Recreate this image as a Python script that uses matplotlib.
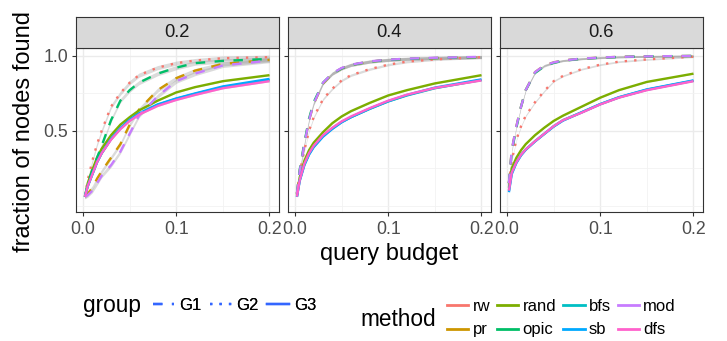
"""Fraction of nodes found vs query budget, faceted like ggplot facet_wrap"""
import matplotlib

matplotlib.use("Agg")
import matplotlib.pyplot as plt
from matplotlib.lines import Line2D
import numpy as np

plt.rcParams["font.family"] = ["Liberation Sans", "DejaVu Sans"]

# x 轴取样点
budget = [0.002, 0.005, 0.01, 0.015, 0.02, 0.03, 0.04, 0.05, 0.06, 0.08, 0.1, 0.12, 0.15, 0.2]

facets = ["0.2", "0.4", "0.6"]
methods = ["rw", "pr", "rand", "opic", "bfs", "sb", "mod", "dfs"]
groups = ["G1", "G2", "G3"]
method_group = {"rw": "G2", "pr": "G1", "rand": "G3", "opic": "G1",
                "bfs": "G3", "sb": "G3", "mod": "G1", "dfs": "G3"}

found_02 = {
    "rw":   [0.06, 0.17, 0.30, 0.41, 0.50, 0.66, 0.75, 0.82, 0.87, 0.92, 0.95, 0.967, 0.983, 0.99],
    "pr":   [0.06, 0.08, 0.12, 0.18, 0.23, 0.32, 0.41, 0.54, 0.64, 0.77, 0.85, 0.90, 0.945, 0.972],
    "rand": [0.06, 0.15, 0.24, 0.32, 0.38, 0.47, 0.54, 0.59, 0.635, 0.70, 0.755, 0.79, 0.83, 0.87],
    "opic": [0.06, 0.14, 0.24, 0.32, 0.40, 0.57, 0.70, 0.77, 0.82, 0.88, 0.92, 0.95, 0.965, 0.978],
    "bfs":  [0.06, 0.13, 0.21, 0.29, 0.35, 0.445, 0.515, 0.57, 0.612, 0.672, 0.712, 0.745, 0.79, 0.838],
    "sb":   [0.06, 0.13, 0.21, 0.29, 0.35, 0.445, 0.517, 0.573, 0.615, 0.675, 0.715, 0.748, 0.795, 0.845],
    "mod":  [0.06, 0.07, 0.10, 0.15, 0.20, 0.27, 0.36, 0.48, 0.60, 0.73, 0.83, 0.88, 0.935, 0.967],
    "dfs":  [0.06, 0.13, 0.21, 0.29, 0.35, 0.44, 0.51, 0.565, 0.607, 0.665, 0.705, 0.738, 0.783, 0.83],
}
found_04 = {
    "rw":   [0.08, 0.22, 0.37, 0.50, 0.59, 0.71, 0.78, 0.835, 0.87, 0.91, 0.94, 0.96, 0.975, 0.99],
    "pr":   [0.08, 0.23, 0.41, 0.57, 0.68, 0.815, 0.88, 0.915, 0.938, 0.96, 0.972, 0.978, 0.984, 0.99],
    "rand": [0.07, 0.19, 0.30, 0.37, 0.42, 0.49, 0.55, 0.595, 0.63, 0.685, 0.735, 0.77, 0.815, 0.87],
    "opic": [0.08, 0.24, 0.42, 0.58, 0.69, 0.82, 0.88, 0.915, 0.938, 0.96, 0.971, 0.978, 0.984, 0.99],
    "bfs":  [0.06, 0.17, 0.275, 0.345, 0.395, 0.465, 0.515, 0.558, 0.59, 0.645, 0.695, 0.735, 0.783, 0.838],
    "sb":   [0.06, 0.165, 0.27, 0.34, 0.39, 0.46, 0.512, 0.556, 0.59, 0.647, 0.697, 0.738, 0.787, 0.842],
    "mod":  [0.08, 0.23, 0.41, 0.57, 0.68, 0.82, 0.882, 0.918, 0.94, 0.962, 0.973, 0.98, 0.986, 0.992],
    "dfs":  [0.06, 0.17, 0.28, 0.35, 0.40, 0.47, 0.52, 0.562, 0.595, 0.65, 0.70, 0.74, 0.785, 0.835],
}
found_06 = {
    "rw":   [0.15, 0.30, 0.44, 0.53, 0.60, 0.69, 0.765, 0.83, 0.865, 0.91, 0.94, 0.96, 0.975, 0.993],
    "pr":   [0.15, 0.37, 0.53, 0.66, 0.77, 0.89, 0.935, 0.955, 0.968, 0.98, 0.987, 0.992, 0.995, 0.998],
    "rand": [0.12, 0.25, 0.32, 0.37, 0.41, 0.47, 0.52, 0.565, 0.60, 0.66, 0.72, 0.77, 0.825, 0.88],
    "opic": [0.15, 0.36, 0.52, 0.66, 0.77, 0.885, 0.93, 0.952, 0.966, 0.979, 0.986, 0.991, 0.995, 0.998],
    "bfs":  [0.10, 0.22, 0.29, 0.34, 0.375, 0.43, 0.48, 0.53, 0.57, 0.623, 0.677, 0.722, 0.773, 0.833],
    "sb":   [0.09, 0.21, 0.285, 0.335, 0.372, 0.428, 0.478, 0.527, 0.567, 0.622, 0.677, 0.723, 0.775, 0.835],
    "mod":  [0.15, 0.37, 0.53, 0.66, 0.77, 0.89, 0.935, 0.955, 0.968, 0.98, 0.987, 0.992, 0.995, 0.998],
    "dfs":  [0.10, 0.22, 0.29, 0.34, 0.375, 0.43, 0.48, 0.53, 0.57, 0.62, 0.675, 0.72, 0.77, 0.83],
}
# 置信带半宽 (geom_smooth 的 se), 按分面和分组
se_width = [
    {"G1": 0.014, "G2": 0.014, "G3": 0.004},
    {"G1": 0.010, "G2": 0.008, "G3": 0.004},
    {"G1": 0.006, "G2": 0.006, "G3": 0.003},
]

# ggplot 默认色
method_colors = {"rw": "#F8766D", "pr": "#CD9600", "rand": "#7CAE00", "opic": "#00BE67",
                 "bfs": "#00BFC4", "sb": "#00A9FF", "mod": "#C77CFF", "dfs": "#FF61CC"}
group_styles = {"G1": (0, (4, 4)), "G2": (0, (1, 3)), "G3": "-"}


def main():
    W, H = 727, 341
    fig = plt.figure(figsize=(W / 100, H / 100), dpi=100)

    lefts = [75.7, 287.7, 499.7]
    pw = 203
    p_top, p_bot = 48.3, 211.7
    s_top = 17.3
    lw = 1.7

    x = np.array(budget)
    for i, (facet, data) in enumerate(zip(facets, [found_02, found_04, found_06])):
        ax = fig.add_axes([lefts[i] / W, 1 - p_bot / H, pw / W, (p_bot - p_top) / H])
        for m in methods:
            y = np.array(data[m])
            se = se_width[i][method_group[m]]
            ax.fill_between(x, y - se, y + se, color="#999999", alpha=0.35, lw=0, zorder=2)
        for m in methods:
            ax.plot(x, data[m], color=method_colors[m], ls=group_styles[method_group[m]],
                    lw=lw, dash_capstyle="butt", solid_capstyle="butt", zorder=3)

        ax.set_xlim(-0.0079, 0.2099)
        ax.set_ylim(-0.04, 1.049)
        ax.set_xticks([0, 0.1, 0.2])
        ax.set_xticklabels(["0.0", "0.1", "0.2"])
        ax.set_xticks([0.05, 0.15], minor=True)
        ax.set_yticks([0.5, 1.0])
        ax.set_yticks([0.0, 0.25, 0.75], minor=True)
        if i == 0:
            ax.set_yticklabels(["0.5", "1.0"])
        else:
            ax.tick_params(axis="y", which="major", length=0, labelleft=False)
        ax.grid(True, which="major", color="#EBEBEB", lw=1.0, zorder=0)
        ax.grid(True, which="minor", color="#F2F2F2", lw=0.6, zorder=0)
        ax.set_axisbelow(True)
        ax.tick_params(axis="both", which="minor", length=0)
        ax.tick_params(axis="both", which="major", length=2.9, width=0.8, color="#333333",
                       labelcolor="#4D4D4D", labelsize=12.8)
        ax.tick_params(axis="x", pad=3.5)
        ax.tick_params(axis="y", pad=2.5)
        for sp in ax.spines.values():
            sp.set_color("#333333")
            sp.set_linewidth(0.8)

        # 分面标签条
        sax = fig.add_axes([lefts[i] / W, 1 - p_top / H, pw / W, (p_top - s_top) / H])
        sax.set_facecolor("#D9D9D9")
        sax.set_xticks([])
        sax.set_yticks([])
        for sp in sax.spines.values():
            sp.set_color("#333333")
            sp.set_linewidth(0.8)
        sax.text(0.5, 0.5, facet, ha="center", va="center", fontsize=13.2,
                 color="#1A1A1A", transform=sax.transAxes)

    fig.text(389 / W, 1 - 260 / H, "query budget", ha="center", va="baseline", fontsize=17)
    fig.text(24 / W, 1 - 132 / H, "fraction of nodes found", ha="center", va="center",
             rotation=90, fontsize=17)

    # 图例: group
    g_handles = [Line2D([], [], color="#3366FF", ls=group_styles[g], lw=lw,
                        dash_capstyle="butt") for g in groups]
    leg1 = fig.legend(g_handles, groups, loc="center left",
                      bbox_to_anchor=(152.7 / W, 1 - 305.7 / H), ncol=3, frameon=False,
                      borderpad=0, handlelength=1.3, handletextpad=0.3, columnspacing=0.5,
                      fontsize=12, borderaxespad=0)
    fig.text(83.3 / W, 1 - 305.7 / H, "group", ha="left", va="center", fontsize=16.3)

    # 图例: method (两行, 按列填充)
    m_handles = [Line2D([], [], color=method_colors[m], lw=lw + 0.3) for m in methods]
    fig.legend(m_handles, methods, loc="center left",
               bbox_to_anchor=(446.7 / W, 1 - 318.3 / H), ncol=4, frameon=False,
               borderpad=0, handlelength=1.3, handletextpad=0.25, columnspacing=0.4,
               labelspacing=0.5, fontsize=12, borderaxespad=0)
    fig.add_artist(leg1)
    fig.text(360 / W, 1 - 320 / H, "method", ha="left", va="center", fontsize=16.3)

    fig.savefig("out.png", dpi=100, facecolor="white")
    plt.close(fig)


if __name__ == "__main__":
    main()
